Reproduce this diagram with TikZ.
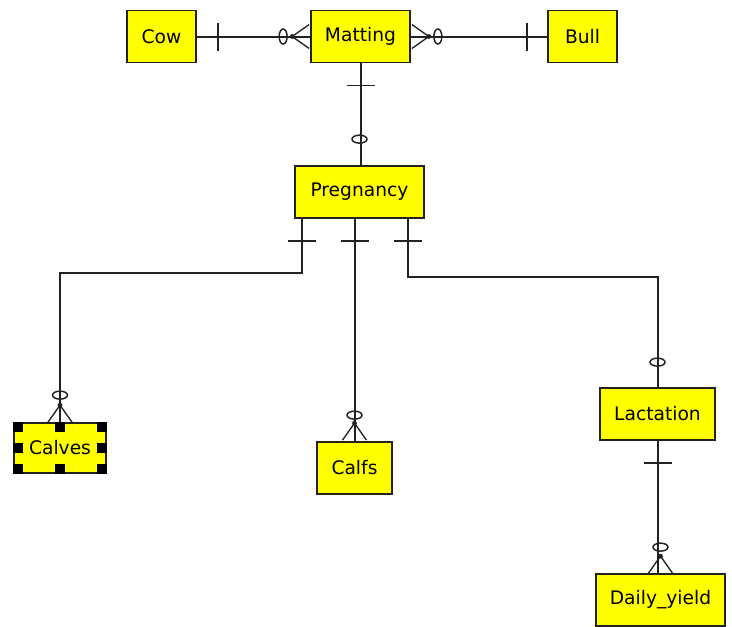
\documentclass[tikz,border=0pt]{standalone}
\usepackage{fontspec}
\setmainfont{DejaVu Sans}
\usepackage{xcolor}
\usepackage{tikz}
\usetikzlibrary{calc}
\definecolor{ink}{HTML}{222222}
\definecolor{entfill}{HTML}{FFFF00}
\tikzset{
  onebar/.pic={\draw[ink, line width=1.2pt] (0,-14) -- (0,14);},
  zerooval/.pic={\draw[ink, line width=1.1pt] (0,0) ellipse (4 and 7.5);},
  crowfoot/.pic={\fill[ink] (0,0) circle (2.4);
    \draw[ink, line width=1pt] (0,0) -- (17,-12) (0,0) -- (17,12);},
}

\begin{document}
\begin{tikzpicture}[
  x=0.75pt, y=-0.75pt,
  every node/.style={font=\fontsize{14}{16}\selectfont},
  entity/.style={rectangle, draw=ink, fill=entfill, line width=1.3pt,
    minimum width=#1*0.75pt, minimum height=39pt, inner sep=0pt},
  rel/.style={draw=ink, line width=1.5pt},
]
\useasboundingbox (0,0) rectangle (732,626);

\node[entity=69] (cow) at (161.5,36.5) {Cow};
\node[entity=99] (matting) at (360.5,36.5) {Matting};
\node[entity=69] (bull) at (582.5,36.5) {Bull};
\node[entity=129] (pregnancy) at (359.5,192) {Pregnancy};
\node[entity=92, minimum height=37.5pt] (calves) at (60,448) {Calves};
\node[entity=75] (calfs) at (354.5,468) {Calfs};
\node[entity=115] (lactation) at (657.5,414) {Lactation};
\node[entity=129] (dailyyield) at (660.5,600) {Daily\_yield};

\draw[rel] (cow) -- (matting);
\draw[rel] (matting) -- (bull);
\draw[rel] (matting.south) -- (matting.south |- pregnancy.north);
\draw[rel] ($(pregnancy.south)+(-57.5,0)$) -- ++(0,54) -| (calves.north);
\draw[rel] (pregnancy.south -| calfs.north) -- (calfs.north);
\draw[rel] ($(pregnancy.south)+(48.5,0)$) -- ++(0,58) -| (lactation.north);
\draw[rel] (lactation.south) -- (lactation.south |- dailyyield.north);

% cow - matting - bull
\pic at ($(cow.east)+(21,0)$) {onebar};
\pic at ($(matting.west)+(-27,0)$) {zerooval};
\pic at ($(matting.west)+(-18,0)$) {crowfoot};
\pic[rotate=180] at ($(matting.east)+(18,0)$) {crowfoot};
\pic at ($(matting.east)+(27,0)$) {zerooval};
\pic at ($(bull.west)+(-20,0)$) {onebar};

% matting - pregnancy
\pic[rotate=90] at ($(matting.south)+(0,22)$) {onebar};
\pic[rotate=90] at ($(pregnancy.north)+(0,-26)$) {zerooval};

% pregnancy - calves, calfs, lactation
\foreach \dx in {-57.5,-5,48.5}
  \pic[rotate=90] at ($(pregnancy.south)+(\dx,22)$) {onebar};
\pic[rotate=90] at ($(calves.north)+(0,-27)$) {zerooval};
\pic[rotate=-90] at ($(calves.north)+(0,-17)$) {crowfoot};
\pic[rotate=90] at ($(calfs.north)+(0,-26)$) {zerooval};
\pic[rotate=-90] at ($(calfs.north)+(0,-18)$) {crowfoot};
\pic[rotate=90] at ($(lactation.north)+(0,-25)$) {zerooval};

% lactation - daily yield
\pic[rotate=90] at ($(lactation.south)+(0,22)$) {onebar};
\pic[rotate=90] at ($(dailyyield.north)+(0,-26)$) {zerooval};
\pic[rotate=-90] at ($(dailyyield.north)+(0,-17)$) {crowfoot};

% selection handles
\foreach \a/\sx/\sy in {north west/0/0, north/-5/0, north east/-10/0,
    west/0/-5, east/-10/-5, south west/0/-10, south/-5/-10, south east/-10/-10}
  \fill[black] ($(calves.\a)+(\sx,\sy)$) rectangle ++(10,10);
\end{tikzpicture}
\end{document}
